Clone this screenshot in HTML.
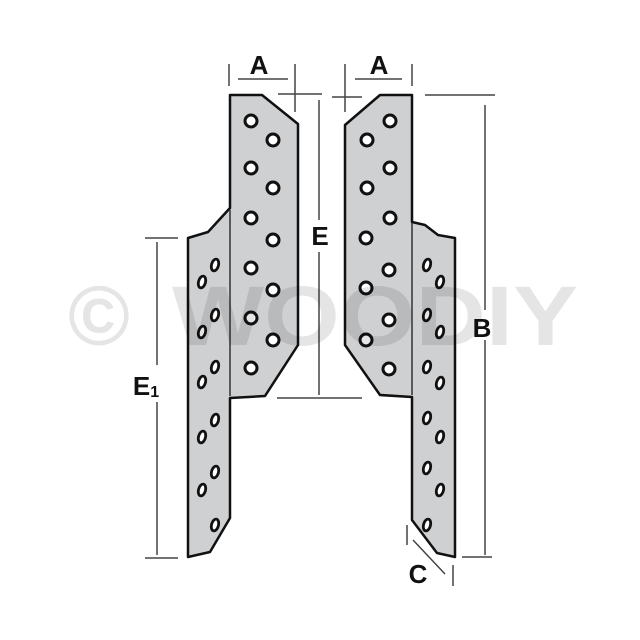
<!DOCTYPE html>
<html><head><meta charset="utf-8"><style>html,body{margin:0;padding:0;background:#fff}svg{display:block}</style></head><body>
<svg width="640" height="640" viewBox="0 0 640 640" xmlns="http://www.w3.org/2000/svg">
<g fill="#cfd0d2" stroke="#111" stroke-width="2.5" stroke-linejoin="round">
<polygon points="230,95 262,95 298,124 298,345 265,396 230,398 230,518 210,552 188,557 188,238 208,232 230,208"/>
<polygon points="412,95 380,95 345,125 345,345 380,395 412,397 412,520 437,553 455,557 455,238 438,235 425,225 412,222"/>
</g>
<g stroke="#333" stroke-width="1.5">
<line x1="230" y1="210" x2="230" y2="396"/>
<line x1="412" y1="223" x2="412" y2="395"/>
</g>
<g fill="#fff" stroke="#111" stroke-width="3">
<circle cx="251" cy="121" r="6"/><circle cx="273" cy="140" r="6"/>
<circle cx="251" cy="168" r="6"/><circle cx="273" cy="188" r="6"/>
<circle cx="251" cy="218" r="6"/><circle cx="273" cy="240" r="6"/>
<circle cx="251" cy="268" r="6"/><circle cx="273" cy="290" r="6"/>
<circle cx="251" cy="318" r="6"/><circle cx="273" cy="340" r="6"/>
<circle cx="251" cy="368" r="6"/>
<circle cx="390" cy="121" r="6"/><circle cx="367" cy="140" r="6"/>
<circle cx="390" cy="168" r="6"/><circle cx="367" cy="188" r="6"/>
<circle cx="390" cy="218" r="6"/><circle cx="366" cy="238" r="6"/>
<circle cx="389" cy="270" r="6"/><circle cx="366" cy="288" r="6"/>
<circle cx="389" cy="320" r="6"/><circle cx="366" cy="340" r="6"/>
<circle cx="389" cy="369" r="6"/>
</g>
<g fill="#fff" stroke="#111" stroke-width="2.8">
<ellipse cx="215" cy="265" rx="3.5" ry="6" transform="rotate(15 215 265)"/><ellipse cx="202" cy="282" rx="3.5" ry="6" transform="rotate(15 202 282)"/>
<ellipse cx="215" cy="315" rx="3.5" ry="6" transform="rotate(15 215 315)"/><ellipse cx="202" cy="332" rx="3.5" ry="6" transform="rotate(15 202 332)"/>
<ellipse cx="215" cy="367" rx="3.5" ry="6" transform="rotate(15 215 367)"/><ellipse cx="202" cy="382" rx="3.5" ry="6" transform="rotate(15 202 382)"/>
<ellipse cx="215" cy="420" rx="3.5" ry="6" transform="rotate(15 215 420)"/><ellipse cx="202" cy="437" rx="3.5" ry="6" transform="rotate(15 202 437)"/>
<ellipse cx="215" cy="472" rx="3.5" ry="6" transform="rotate(15 215 472)"/><ellipse cx="202" cy="490" rx="3.5" ry="6" transform="rotate(15 202 490)"/>
<ellipse cx="215" cy="525" rx="3.5" ry="6" transform="rotate(15 215 525)"/>
<ellipse cx="427" cy="265" rx="3.5" ry="6" transform="rotate(15 427 265)"/><ellipse cx="440" cy="282" rx="3.5" ry="6" transform="rotate(15 440 282)"/>
<ellipse cx="427" cy="315" rx="3.5" ry="6" transform="rotate(15 427 315)"/><ellipse cx="440" cy="332" rx="3.5" ry="6" transform="rotate(15 440 332)"/>
<ellipse cx="427" cy="367" rx="3.5" ry="6" transform="rotate(15 427 367)"/><ellipse cx="440" cy="383" rx="3.5" ry="6" transform="rotate(15 440 383)"/>
<ellipse cx="427" cy="418" rx="3.5" ry="6" transform="rotate(15 427 418)"/><ellipse cx="440" cy="437" rx="3.5" ry="6" transform="rotate(15 440 437)"/>
<ellipse cx="427" cy="468" rx="3.5" ry="6" transform="rotate(15 427 468)"/><ellipse cx="440" cy="490" rx="3.5" ry="6" transform="rotate(15 440 490)"/>
<ellipse cx="427" cy="525" rx="3.5" ry="6" transform="rotate(15 427 525)"/>
</g>
<g stroke="#444" stroke-width="1.5">
<line x1="229" y1="64" x2="229" y2="86"/><line x1="295" y1="64" x2="295" y2="112"/>
<line x1="238" y1="79" x2="288" y2="79"/>
<line x1="345" y1="64" x2="345" y2="112"/><line x1="412" y1="64" x2="412" y2="86"/>
<line x1="355" y1="79" x2="402" y2="79"/>
<line x1="278" y1="94" x2="322" y2="94"/><line x1="332" y1="97" x2="362" y2="97"/>
<line x1="319" y1="100" x2="319" y2="220"/><line x1="319" y1="252" x2="319" y2="395"/>
<line x1="277" y1="398" x2="362" y2="398"/>
<line x1="425" y1="95" x2="495" y2="95"/><line x1="462" y1="557" x2="492" y2="557"/>
<line x1="485" y1="105" x2="485" y2="310"/><line x1="485" y1="340" x2="485" y2="555"/>
<line x1="145" y1="238" x2="178" y2="238"/><line x1="145" y1="558" x2="178" y2="558"/>
<line x1="157" y1="242" x2="157" y2="365"/><line x1="157" y1="402" x2="157" y2="555"/>
<line x1="407" y1="525" x2="407" y2="545"/><line x1="453" y1="565" x2="453" y2="586"/>
<line x1="413" y1="540" x2="445" y2="574"/>
</g>
<g font-family="Liberation Sans, sans-serif" font-weight="bold" fill="#111" font-size="26" text-anchor="middle">
<text x="259" y="74">A</text><text x="379" y="74">A</text>
<text x="320" y="245">E</text>
<text x="482" y="337">B</text>
<text x="146" y="395">E<tspan font-size="16" dy="2">1</tspan></text>
<text x="418" y="583">C</text>
</g>
<g font-family="Liberation Sans, sans-serif" font-weight="bold" fill="#000" fill-opacity="0.1" font-size="84">
<text x="68" y="345">©</text>
<text x="172" y="345" textLength="406" lengthAdjust="spacingAndGlyphs">WOODIY</text>
</g>
</svg>
</body></html>
